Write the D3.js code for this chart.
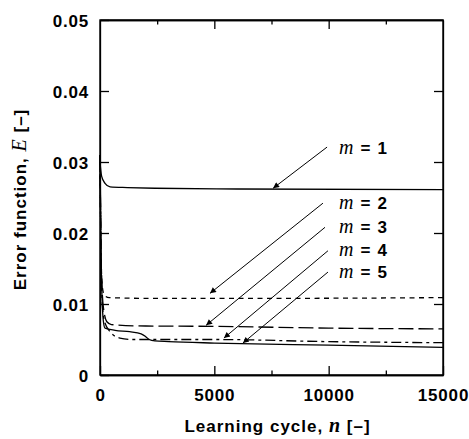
<!DOCTYPE html>
<html>
<head>
<meta charset="utf-8">
<script src="https://cdn.jsdelivr.net/npm/d3@7"></script>
<style>
  body { margin: 0; background: #fff; }
  svg { display: block; }
  .tick text { font-family: "Liberation Sans", Arial, sans-serif; font-weight: bold; font-size: 17px; letter-spacing: 0.8px; fill: #000; }
</style>
</head>
<body>
<svg id="chart"></svg>
<script>
// ---- data ----
var cycles_m1 = [0, 70, 220, 440, 1200, 2400, 6000, 15000];
var error_m1  = [0.0300, 0.0280, 0.0270, 0.0265, 0.0264, 0.0263, 0.0262, 0.0261];

var cycles_m2 = [0, 40, 100, 200, 400, 2000, 8000, 15000];
var error_m2  = [0.0310, 0.0180, 0.0125, 0.0112, 0.0109, 0.0108, 0.0108, 0.0109];

var cycles_m3 = [0, 60, 150, 300, 500, 2000, 5000, 10000, 15000];
var error_m3  = [0.0310, 0.0150, 0.0095, 0.0075, 0.0071, 0.0069, 0.00685, 0.0066, 0.0065];

var cycles_m4 = [0, 50, 100, 200, 440, 870, 1400, 5000, 10000, 15000];
var error_m4  = [0.0310, 0.0160, 0.0100, 0.0075, 0.0061, 0.0052, 0.0050, 0.0050, 0.0047, 0.00455];

var cycles_m5 = [0, 50, 100, 150, 220, 660, 1300, 1800, 2000, 2150, 2400, 3000, 5000, 10000, 15000];
var error_m5  = [0.0310, 0.0160, 0.0100, 0.0075, 0.0066, 0.0063, 0.0061, 0.0058, 0.0054, 0.0050, 0.0048, 0.0047, 0.0045, 0.0042, 0.0039];

var seriesNames = ["1", "2", "3", "4", "5"];
// label anchor and arrow (start -> tip) in data units
var labelCycle = [10450, 10450, 10450, 10450, 10450];
var labelError = [0.0311, 0.0234, 0.0200, 0.0168, 0.0137];
var arrowFromCycle = [9930, 9750, 9840, 9970, 9970];
var arrowFromError = [0.0321, 0.0242, 0.0208, 0.0175, 0.0145];
var arrowToCycle   = [7570, 4810, 4640, 5420, 6250];
var arrowToError   = [0.0263, 0.0115, 0.0070, 0.0052, 0.0045];

var xTicks = [0, 5000, 10000, 15000];
var xMinor = [2500, 7500, 12500];
var yTicks = [0, 0.01, 0.02, 0.03, 0.04, 0.05];

// ---- layout ----
var width = 469, height = 439;
var plotLeft = 100, plotRight = 443, plotTop = 20, plotBottom = 375;

var svg = d3.select("#chart").attr("width", width).attr("height", height);

var x = d3.scaleLinear().domain([0, 15000]).range([plotLeft, plotRight]);
var y = d3.scaleLinear().domain([0, 0.05]).range([plotBottom, plotTop]);

// ---- axes (ticks pointing inward on all four sides) ----
svg.append("g")
    .attr("transform", "translate(0," + plotBottom + ")")
    .call(d3.axisBottom(x).tickValues(xTicks).tickSize(-9).tickSizeOuter(0).tickPadding(14).tickFormat(d3.format("d")));
svg.append("g")
    .attr("transform", "translate(0," + plotBottom + ")")
    .call(d3.axisBottom(x).tickValues(xMinor).tickSize(-4.5).tickSizeOuter(0).tickFormat(""));
svg.append("g")
    .attr("transform", "translate(0," + plotTop + ")")
    .call(d3.axisTop(x).tickValues(xTicks.slice(1, 3)).tickSize(-9).tickSizeOuter(0).tickFormat(""));
svg.append("g")
    .attr("transform", "translate(0," + plotTop + ")")
    .call(d3.axisTop(x).tickValues(xMinor).tickSize(-4.5).tickSizeOuter(0).tickFormat(""));
svg.append("g")
    .attr("transform", "translate(" + plotLeft + ",0)")
    .call(d3.axisLeft(y).tickValues(yTicks).tickSize(-9).tickSizeOuter(0).tickPadding(11)
        .tickFormat(function(d) { return d === 0 ? "0" : d3.format(".2f")(d); }))
    .selectAll("text").attr("dy", "0.38em");
svg.append("g")
    .attr("transform", "translate(" + plotRight + ",0)")
    .call(d3.axisRight(y).tickValues(yTicks.slice(1, 5)).tickSize(-9).tickSizeOuter(0).tickFormat(""));

svg.selectAll(".domain, .tick line").attr("stroke", "#000").attr("stroke-width", 1.3);

// frame
svg.append("rect")
    .attr("x", plotLeft).attr("y", plotTop)
    .attr("width", plotRight - plotLeft).attr("height", plotBottom - plotTop)
    .attr("fill", "none").attr("stroke", "#000").attr("stroke-width", 1.4);

// ---- curves ----
var line = d3.line()
    .x(function(d) { return x(d[0]); })
    .y(function(d) { return y(d[1]); })
    .curve(d3.curveMonotoneX);

var curves = [
  { n: cycles_m1, e: error_m1, dash: null },
  { n: cycles_m2, e: error_m2, dash: "5,4.5" },
  { n: cycles_m3, e: error_m3, dash: "15,5" },
  { n: cycles_m4, e: error_m4, dash: "10,4,3,4" },
  { n: cycles_m5, e: error_m5, dash: null }
];

svg.append("g").selectAll("path")
    .data(curves)
    .enter()
    .append("path")
    .attr("d", function(c) { return line(d3.zip(c.n, c.e)); })
    .attr("fill", "none")
    .attr("stroke", "#000")
    .attr("stroke-width", 1.3)
    .attr("stroke-dasharray", function(c) { return c.dash; });

// ---- annotations ----
svg.append("defs").append("marker")
    .attr("id", "head")
    .attr("viewBox", "0 0 10 10")
    .attr("refX", 10).attr("refY", 5)
    .attr("markerWidth", 8).attr("markerHeight", 6)
    .attr("markerUnits", "userSpaceOnUse")
    .attr("orient", "auto")
    .append("path")
    .attr("d", "M0,0 L10,5 L0,10 Z")
    .attr("fill", "#000");

svg.append("g").selectAll("line")
    .data(seriesNames)
    .enter()
    .append("line")
    .attr("x1", function(d, i) { return x(arrowFromCycle[i]); })
    .attr("y1", function(d, i) { return y(arrowFromError[i]); })
    .attr("x2", function(d, i) { return x(arrowToCycle[i]); })
    .attr("y2", function(d, i) { return y(arrowToError[i]); })
    .attr("stroke", "#000")
    .attr("stroke-width", 1)
    .attr("marker-end", "url(#head)");

var labels = svg.append("g").selectAll("text")
    .data(seriesNames)
    .enter()
    .append("text")
    .attr("x", function(d, i) { return x(labelCycle[i]); })
    .attr("y", function(d, i) { return y(labelError[i]); })
    .attr("font-size", 17)
    .attr("letter-spacing", 1.2);
labels.append("tspan")
    .attr("font-family", "'Liberation Serif', 'Times New Roman', serif")
    .attr("font-style", "italic")
    .attr("font-size", 20)
    .text("m");
labels.append("tspan")
    .attr("font-family", "'Liberation Sans', Arial, sans-serif")
    .attr("font-weight", "bold")
    .text(function(d) { return " = " + d; });

// ---- axis titles ----
var xTitle = svg.append("text")
    .attr("x", (plotLeft + plotRight) / 2 + 6)
    .attr("y", 432)
    .attr("text-anchor", "middle")
    .attr("font-family", "'Liberation Sans', Arial, sans-serif")
    .attr("font-weight", "bold")
    .attr("font-size", 17)
    .attr("letter-spacing", 1);
xTitle.append("tspan").text("Learning cycle, ");
xTitle.append("tspan").attr("font-family", "'Liberation Serif', serif").attr("font-style", "italic").attr("font-size", 20).text("n");
xTitle.append("tspan").text(" [\u2013]");

var yTitle = svg.append("text")
    .attr("transform", "translate(26," + ((plotTop + plotBottom) / 2 + 2) + ") rotate(-90)")
    .attr("text-anchor", "middle")
    .attr("font-family", "'Liberation Sans', Arial, sans-serif")
    .attr("font-weight", "bold")
    .attr("font-size", 17)
    .attr("letter-spacing", 1);
yTitle.append("tspan").text("Error function, ");
yTitle.append("tspan").attr("font-family", "'Liberation Serif', serif").attr("font-style", "italic").attr("font-weight", "normal").attr("font-size", 20).text("E");
yTitle.append("tspan").text(" [\u2013]");
</script>
</body>
</html>
